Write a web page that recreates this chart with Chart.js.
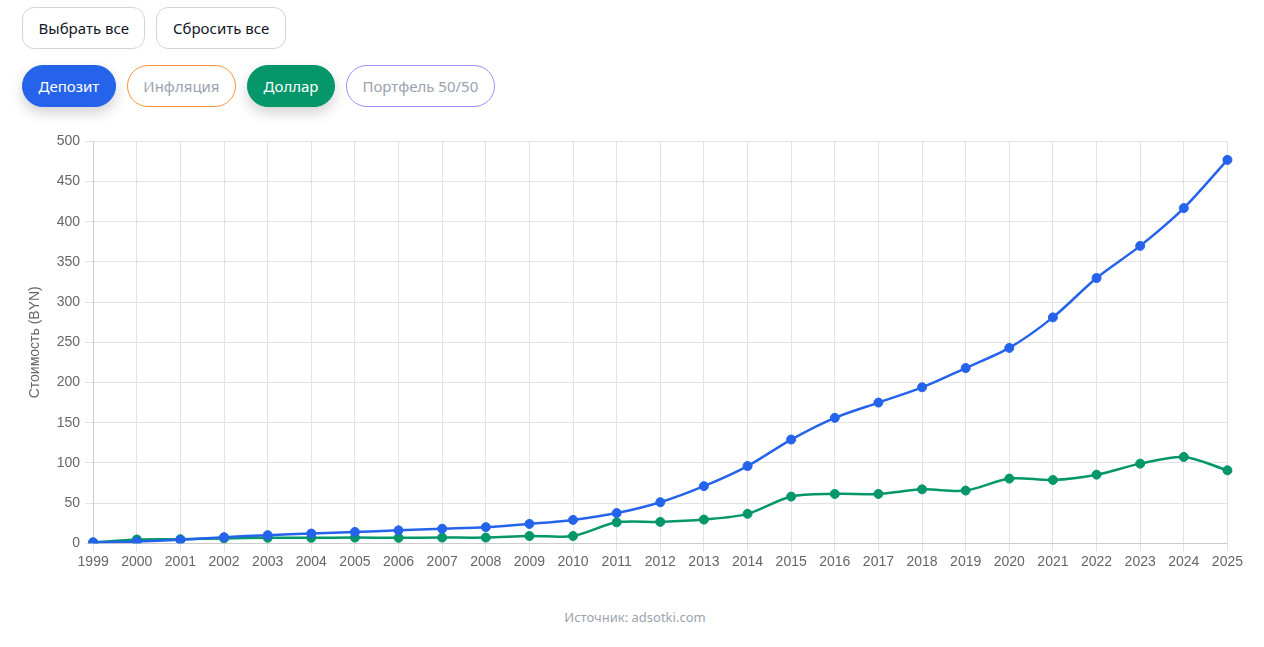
<!DOCTYPE html>
<html lang="ru">
<head>
<meta charset="utf-8">
<title>Стоимость (BYN)</title>
<script src="https://cdn.jsdelivr.net/npm/chart.js@4"></script>
<style>
    body { margin: 0; background: #fff; font-family: "Noto Sans", "Open Sans", sans-serif; }
    .row { position: absolute; left: 22px; display: flex; gap: 11px; }
    .row1 { top: 7px; }
    .row2 { top: 65px; }
    .btn {
        height: 42px; box-sizing: border-box; padding: 0 15.5px;
        border: 1px solid #d1d5db; border-radius: 12px; background: #fff;
        font: 15px "Noto Sans", sans-serif; color: #111827;
        display: flex; align-items: center;
    }
    .pill { border-radius: 21px; color: #9ca3af; }
    .on { color: #fff; box-shadow: 0 6px 14px rgba(0,0,0,0.18); }
    #wrap { position: absolute; left: 23px; top: 128px; width: 1223px; height: 446px; }
    .src { position: absolute; top: 608px; left: 0; width: 1270px; text-align: center; font: 13px "Noto Sans", sans-serif; color: #9ca3af; }
</style>
</head>
<body>
<div class="row row1">
    <div class="btn">Выбрать все</div>
    <div class="btn">Сбросить все</div>
</div>
<div class="row row2" id="toggles"></div>
<div id="wrap"><canvas id="chart"></canvas></div>
<div class="src">Источник: adsotki.com</div>

<script>
// Годы
const years = ['1999','2000','2001','2002','2003','2004','2005','2006','2007','2008','2009','2010','2011','2012',
    '2013','2014','2015','2016','2017','2018','2019','2020','2021','2022','2023','2024','2025'];

// Значения (BYN)
const depositValues = [1, 2, 4.2, 7.5, 10, 12, 14, 16, 18, 20, 24, 29, 37.5, 51,
    71, 96, 129, 156, 175, 194, 218, 243, 281, 330, 370, 417, 477];
const dollarValues = [1, 4.6, 5, 6, 6.7, 6.7, 7, 6.7, 7, 7, 9, 9, 26, 26.5,
    29.4, 36.5, 58, 61.3, 61.3, 67, 65.5, 80.4, 78.7, 85.3, 99, 107.3, 90.7];

// Кнопки-серии: подпись, цвет, включена ли
const seriesNames = ['Депозит', 'Инфляция', 'Доллар', 'Портфель 50/50'];
const seriesColors = ['#2563eb', '#fb923c', '#059669', '#a78bfa'];
const seriesOn = [true, false, true, false];

const toggles = document.getElementById('toggles');
seriesNames.forEach((name, i) => {
    const b = document.createElement('div');
    b.className = 'btn pill' + (seriesOn[i] ? ' on' : '');
    b.textContent = name;
    b.style.borderColor = seriesColors[i];
    if (seriesOn[i]) b.style.background = seriesColors[i];
    toggles.appendChild(b);
});

Chart.defaults.font.family = '"Liberation Sans", Arial, sans-serif';

const ctx = document.getElementById('chart').getContext('2d');
new Chart(ctx, {
    type: 'line',
    data: {
        labels: years,
        datasets: [
            {
                label: 'Депозит',
                data: depositValues,
                borderColor: seriesColors[0],
                backgroundColor: seriesColors[0],
            },
            {
                label: 'Доллар',
                data: dollarValues,
                borderColor: seriesColors[2],
                backgroundColor: seriesColors[2],
            }
        ]
    },
    options: {
        responsive: true,
        maintainAspectRatio: false,
        animation: false,
        elements: {
            line: { tension: 0.3, borderWidth: 2.5 },
            point: { radius: 4.5 }
        },
        plugins: {
            legend: { display: false },
            tooltip: { enabled: false }
        },
        scales: {
            x: {
                grid: { color: '#e2e2e2' },
                ticks: { color: '#666', font: { size: 14 }, maxRotation: 0, autoSkip: false }
            },
            y: {
                min: 0,
                max: 500,
                grid: { color: '#e2e2e2' },
                title: { display: true, text: 'Стоимость (BYN)', color: '#666', font: { size: 14 }, padding: { top: 4, bottom: 8 } },
                ticks: { color: '#666', font: { size: 14 }, stepSize: 50, padding: 5 }
            }
        }
    }
});
</script>
</body>
</html>
